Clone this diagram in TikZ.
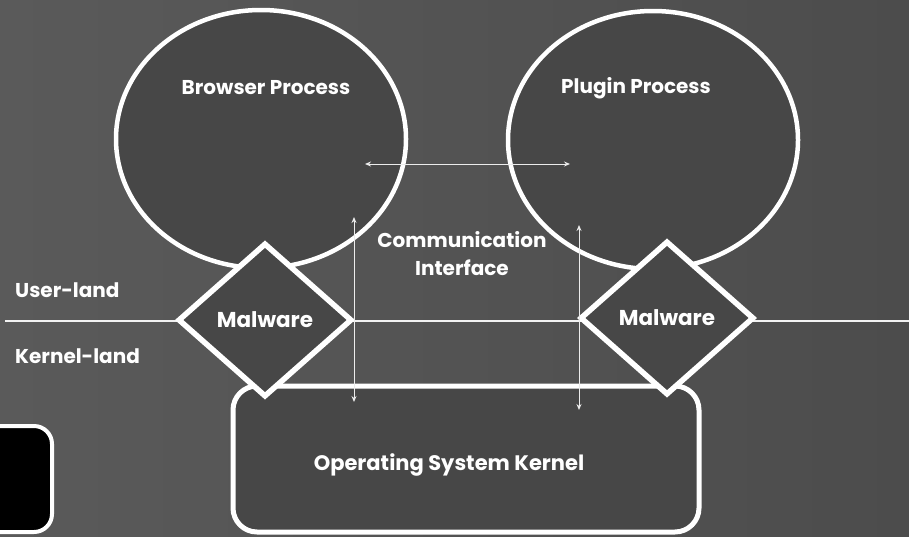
\documentclass[tikz,border=0pt]{standalone}
\usepackage{fontspec}
\setmainfont{Poppins}
\usetikzlibrary{shapes.geometric,arrows.meta}
\definecolor{bgL}{HTML}{5A5A5A}
\definecolor{bgR}{HTML}{4C4C4C}
\definecolor{shapefill}{HTML}{474747}
\tikzset{
  proc/.style={ellipse, draw=white, line width=4.5pt, fill=shapefill, minimum width=290pt, minimum height=258pt, inner sep=0pt},
  mal/.style={diamond, draw=white, line width=5.5pt, fill=shapefill, minimum width=174pt, minimum height=154pt, aspect=1.13, inner sep=0pt, text=white, font=\fontsize{21.5}{24}\selectfont\bfseries},
  kern/.style={rectangle, rounded corners=24pt, draw=white, line width=5pt, fill=shapefill, minimum width=466pt, minimum height=146pt, inner sep=0pt},
  lbl/.style={text=white, font=\fontsize{20}{24}\selectfont\bfseries, inner sep=0pt},
  con/.style={white!85!gray, line width=1pt, {Stealth[length=6pt,width=5pt]}-{Stealth[length=6pt,width=5pt]}},
  sep/.style={white!90!gray, line width=2pt}
}
\begin{document}
\begin{tikzpicture}[x=1pt,y=-1pt]
\useasboundingbox (0,0) rectangle (909,536);
\begin{scope}
\clip (0,0) rectangle (909,536);
\shade[left color=bgL, right color=bgR] (0,0) rectangle (909,536);
% separator
\coordinate (sl) at (5,321);
\coordinate (sr) at (909,321);
\draw[sep] (sl) -- (sr);
% processes
\node[proc] (bp) at (261,139) {};
\node[proc] (pp) at (653,140) {};
\node[lbl] (bpt) at (266,88) {Browser Process};
\node[lbl] (ppt) at (636,88) {Plugin Process};
% kernel
\node[kern] (os) at (466,459) {};
\node[lbl, font=\fontsize{21}{24}\selectfont\bfseries] (ost) at (449,465) {Operating System Kernel};
% malware
\node[mal] (m1) at (265,320) {Malware};
\node[mal] (m2) at (667,318) {Malware};
% black box
\node[rectangle, rounded corners=18pt, draw=white, line width=4pt, fill=black, minimum width=90pt, minimum height=106pt] (bb) at (7,479) {};
% labels
\node[lbl, anchor=west] (ul) at (15,290) {User-land};
\node[lbl, anchor=west] (kl) at (15,356) {Kernel-land};
\node[lbl, align=center, font=\fontsize{20}{28}\selectfont\bfseries] (ci) at (462,254) {Communication\\Interface};
% connectors
\coordinate (h1) at (365,164);
\coordinate (h2) at (570,164);
\draw[con] (h1) -- (h2);
\coordinate (v1t) at (354,217);
\coordinate (v1b) at (354,402);
\draw[con] (v1t) -- (v1b);
\coordinate (v2t) at (579,225);
\coordinate (v2b) at (579,410);
\draw[con] (v2t) -- (v2b);
\end{scope}
\end{tikzpicture}
\end{document}
